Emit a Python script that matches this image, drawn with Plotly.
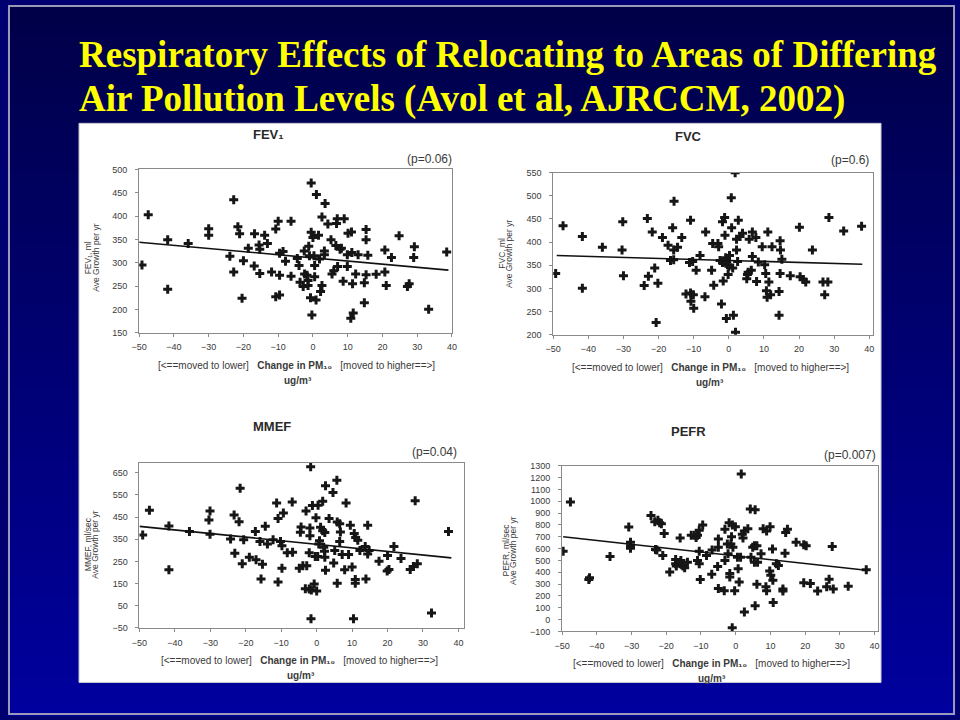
import plotly.graph_objects as go

W, H = 960, 720

TITLE_LINE1 = "Respiratory Effects of Relocating to Areas of Differing"
TITLE_LINE2 = "Air Pollution Levels (Avol et al, AJRCCM, 2002)"

X_TICKS = [-50, -40, -30, -20, -10, 0, 10, 20, 30, 40]
FEV1_YTICKS = [150, 200, 250, 300, 350, 400, 450, 500]
FVC_YTICKS = [200, 250, 300, 350, 400, 450, 500, 550]
MMEF_YTICKS = [-50, 50, 150, 250, 350, 450, 550, 650]
PEFR_YTICKS = [-100, 0, 100, 200, 300, 400, 500, 600, 700, 800, 900, 1000, 1100, 1200, 1300]

# (change in PM10, growth) pairs
FEV1_POINTS = [
    (-49.2, 295), (-47.4, 403), (-41.8, 349), (-41.8, 243), (-35.9, 341), (-30, 373), (-30, 359),
    (-23.9, 314), (-22.8, 435), (-22.8, 280), (-21.6, 377), (-21.1, 362), (-20.4, 224), (-20, 304),
    (-18.6, 331), (-16.9, 293), (-16.8, 362), (-15.5, 338), (-15.3, 329), (-15.3, 277), (-13.9, 359),
    (-13.1, 341), (-11.9, 280), (-10.7, 372), (-10, 389), (-10.7, 227), (-9.6, 231), (-9.6, 273),
    (-9.6, 320), (-8.6, 324), (-7.9, 303), (-6.3, 389), (-6.3, 271), (-4.5, 309), (-4, 294),
    (-3.7, 258), (-2.8, 249), (-2.5, 325), (-2.4, 276), (-1.7, 273), (-1.4, 262), (-1.4, 251),
    (-1.2, 335), (-1, 315), (-0.7, 225), (-0.5, 471), (-0.5, 365), (-0.3, 188), (0, 354), (0.3, 315),
    (0.5, 294), (0.5, 270), (0.9, 220), (1, 446), (1.6, 359), (1.9, 308), (2.2, 238), (2.6, 251),
    (2.6, 398), (3.3, 317), (3.3, 325), (3.5, 427), (4.3, 383), (5.2, 349), (5.5, 276), (6, 283),
    (6.6, 337), (6.8, 384), (7, 394), (7.1, 292), (7.8, 329), (8.2, 331), (8.7, 260), (9, 394),
    (9.9, 317), (9.9, 292), (10.1, 363), (11.1, 366), (11.2, 322), (11.4, 255), (10.9, 181),
    (11.6, 192), (12.3, 276), (13, 317), (14.8, 257), (14.8, 214), (15.3, 371), (15.3, 349),
    (15.3, 274), (15.8, 316), (18.2, 275), (20.7, 327), (20.7, 280), (21.1, 251), (22.6, 311),
    (24.8, 358), (27.2, 249), (27.7, 255), (29, 311), (29.2, 334), (33.3, 200), (38.5, 323),
]
FEV1_FIT = [(-50, 344), (39, 284)]

FVC_POINTS = [
    (-49.3, 332), (-47.2, 435), (-41.7, 412), (-41.7, 300), (-36, 389), (-30.2, 444), (-30.4, 383),
    (-30, 327), (-24.1, 306), (-23.2, 451), (-22.9, 326), (-21.8, 422), (-21.1, 344), (-20.7, 226),
    (-20.2, 311), (-18.9, 410), (-17.3, 393), (-16.6, 360), (-16, 431), (-15.6, 488), (-15.7, 383),
    (-15.7, 362), (-14.6, 389), (-13.4, 410), (-12.2, 288), (-10.9, 447), (-11.2, 356), (-10.9, 290),
    (-10.8, 272), (-10.3, 358), (-10.1, 286), (-10, 257), (-9.3, 339), (-8.2, 371), (-6.8, 282),
    (-6.6, 422), (-4.9, 339), (-4.6, 397), (-4.3, 307), (-3.1, 397), (-2.9, 390), (-2.5, 360),
    (-2.1, 266), (-1.8, 356), (-1.8, 444), (-1.6, 316), (-1.2, 453), (-1.1, 415), (-0.9, 366),
    (-0.7, 235), (-0.6, 358), (-0.4, 351), (-0.2, 330), (0, 348), (0.2, 371), (0.7, 496), (0.8, 431),
    (1.1, 344), (1.3, 242), (1.8, 550), (1.9, 205), (2.2, 406), (2.2, 383), (2.5, 358), (2.7, 447),
    (3.2, 412), (3.9, 419), (5.1, 321), (5.3, 330), (5.5, 335), (5.8, 406), (6.4, 339), (6.7, 422),
    (6.7, 369), (7.7, 410), (7.9, 315), (8.4, 357), (9.5, 390), (10.2, 351), (10.5, 332), (10.7, 295),
    (10.9, 281), (11.1, 422), (11.4, 314), (11.9, 286), (12.3, 390), (14.3, 293), (14.3, 242),
    (14.6, 403), (14.6, 332), (14.7, 383), (15.1, 363), (17.5, 327), (20.1, 432), (20.3, 325),
    (21.2, 319), (21.9, 314), (23.8, 383), (26.8, 314), (27.3, 286), (28.2, 314), (28.5, 453),
    (32.7, 424), (37.8, 434),
]
FVC_FIT = [(-49, 371), (38, 352)]

MMEF_POINTS = [
    (-49.1, 369), (-47.2, 481), (-41.7, 410), (-41.7, 213), (-35.9, 385), (-30.4, 437), (-30.1, 477),
    (-30.1, 373), (-24.3, 351), (-23.3, 459), (-23.1, 287), (-21.9, 429), (-21.6, 580), (-21, 240),
    (-20.6, 348), (-19, 269), (-17.3, 385), (-17.1, 258), (-16, 340), (-15.7, 171), (-15.3, 237),
    (-14.5, 409), (-13.9, 329), (-12.3, 348), (-11.3, 514), (-10.9, 444), (-10.9, 157), (-10.2, 340),
    (-9.8, 321), (-9.8, 219), (-9.4, 468), (-8.3, 289), (-6.9, 518), (-6.8, 291), (-4.9, 219),
    (-4.6, 382), (-4.4, 405), (-3.9, 231), (-3.2, 127), (-3, 477), (-2.8, 231), (-2.1, 126),
    (-2.1, 289), (-1.9, 401), (-1.9, 366), (-1.7, 677), (-1.6, -9), (-1.5, 121), (-1.2, 502),
    (-0.7, 148), (-0.4, 272), (-0.2, 447), (0, 117), (0.3, 272), (0.4, 503), (0.6, 329), (0.8, 343),
    (1.1, 404), (1.7, 521), (1.7, 388), (2, 314), (2.2, 296), (2.3, 380), (2.3, 269), (2.5, 591),
    (2.5, 210), (3.5, 444), (4.6, 561), (4.8, 243), (5.1, 299), (5.7, 616), (5.8, 428), (5.8, 151),
    (6.5, 420), (6.5, 340), (6.7, 383), (7.2, 281), (7.9, 213), (8.3, 514), (9, 281), (9.5, 413),
    (10, 225), (10.4, -9), (10.6, 376), (11, 358), (10.9, 168), (10.9, 151), (11.6, 346), (12.2, 299),
    (13.7, 317), (13.9, 171), (14.4, 413), (14.4, 284), (14.8, 299), (17.6, 251), (19.9, 207),
    (20.4, 214), (20, 277), (21.8, 317), (23.8, 263), (26.4, 214), (27.3, 227), (28.4, 240),
    (27.8, 524), (32.4, 17), (37.2, 385),
]
MMEF_FIT = [(-50, 408), (38, 266)]

PEFR_POINTS = [
    (-49.7, 578), (-47.6, 994), (-42.1, 353), (-42.3, 340), (-36.2, 533), (-30.8, 783), (-30.3, 653),
    (-30.3, 625), (-30.3, 603), (-24.4, 881), (-23.3, 828), (-22.4, 839), (-21.9, 819), (-21.4, 811),
    (-23.1, 592), (-22.7, 589), (-21, 542), (-20.6, 728), (-19, 403), (-17.3, 508), (-17.3, 472),
    (-17.1, 453), (-16, 472), (-16, 689), (-15.8, 500), (-15.2, 453), (-14.7, 439), (-13.9, 486),
    (-12.8, 714), (-11.9, 714), (-11.4, 694), (-11, 714), (-10.5, 756), (-11, 500), (-10.5, 472),
    (-10.5, 578), (-10.2, 339), (-9.5, 800), (-8.4, 542), (-6.9, 383), (-6.8, 589), (-5, 681),
    (-5, 611), (-5.2, 450), (-5, 264), (-3.3, 244), (-3.1, 764), (-2.4, 639), (-1.9, 819), (-1.2, 700),
    (-1.4, 639), (-0.95, 800), (-1.7, 389), (-1.7, 361), (-2.2, 556), (-3.1, 500), (-0.8, 611),
    (-0.1, 786), (-0.3, 244), (0.7, 431), (1, 319), (0.5, 528), (1.4, 528), (1.6, 1231), (1.9, 722),
    (2.1, 689), (2.5, 750), (3.5, 769), (2.5, 64), (-1, -69), (4.2, 936), (5.6, 928), (4.9, 611),
    (5.4, 625), (6.1, 625), (4.4, 528), (5.4, 486), (6.3, 486), (7.3, 556), (6.1, 300), (5.6, 117),
    (7.9, 769), (8.9, 750), (9.9, 786), (10.6, 597), (8.7, 278), (8.9, 244), (9.8, 411), (10.1, 375),
    (10.7, 333), (11.7, 472), (12.3, 458), (10.8, 144), (13.6, 258), (13.6, 242), (14.2, 561),
    (14.4, 736), (14.9, 764), (17.4, 653), (19.6, 633), (20.3, 625), (19.6, 311), (21.5, 306),
    (23.6, 242), (26.2, 278), (26.9, 342), (28.1, 258), (27.8, 619), (32.4, 283), (37.6, 422),
]
PEFR_FIT = [(-49.7, 700), (37.6, 417)]

XTITLE = ("[&lt;==moved to lower]&nbsp;&nbsp;&nbsp;<b>Change in PM₁₀</b>"
          "&nbsp;&nbsp;&nbsp;[moved to higher==&gt;]")
UNITS = "<b>ug/m³</b>"
YTITLE2 = "Ave Growth per yr"


def px(x):
    return x / W


def py(y):
    return 1 - y / H


PANELS = [
    dict(pts=FEV1_POINTS, fit=FEV1_FIT, yticks=FEV1_YTICKS, yrange=[150, 500], xrange=[-50, 40],
         frame=(133, 450, 166.7, 332.3), title="FEV₁", title_xy=(264, 131),
         p="(p=0.06)", p_xy=(452, 156), ytitle="FEV₁, ml",
         yt1_x=82, yt2_x=89.5, yt_y=256, xt1_xy=(292, 366), xt2_xy=(294, 381)),
    dict(pts=FVC_POINTS, fit=FVC_FIT, yticks=FVC_YTICKS, yrange=[200, 550], xrange=[-50, 41],
         frame=(552.7, 876.7, 170, 334.3), title="FVC", title_xy=(690, 133),
         p="(p=0.6)", p_xy=(875, 157), ytitle="FVC, ml",
         yt1_x=501, yt2_x=508.5, yt_y=252, xt1_xy=(712, 368), xt2_xy=(712, 383)),
    dict(pts=MMEF_POINTS, fit=MMEF_FIT, yticks=MMEF_YTICKS, yrange=[-50, 696], xrange=[-50, 41.7],
         frame=(133.3, 462.7, 464, 631.7), title="MMEF", title_xy=(268, 427),
         p="(p=0.04)", p_xy=(457, 453), ytitle="MMEF, ml/sec",
         yt1_x=81, yt2_x=88.5, yt_y=547, xt1_xy=(295, 665), xt2_xy=(297, 680)),
    dict(pts=PEFR_POINTS, fit=PEFR_FIT, yticks=PEFR_YTICKS, yrange=[-100, 1300], xrange=[-50, 41],
         frame=(561.7, 882, 467.3, 635.3), title="PEFR", title_xy=(690, 432),
         p="(p=0.007)", p_xy=(882, 456), ytitle="PEFR, ml/sec",
         yt1_x=505, yt2_x=512.5, yt_y=553, xt1_xy=(713, 668), xt2_xy=(714, 683)),
]

TEXT_COL = "#3a3a3a"
FRAME_COL = "#8a8a8a"
SANS = "Liberation Sans, Arial, DejaVu Sans, sans-serif"
SERIF = "Liberation Serif, Times New Roman, serif"

fig = go.Figure()
layout = dict(
    width=W, height=H, margin=dict(l=0, r=0, t=0, b=0),
    paper_bgcolor="#000070", plot_bgcolor="white", showlegend=False,
    font=dict(family=SANS, color=TEXT_COL, size=10),
)

# background gradient + white picture area
shapes = []
N = 72
for i in range(N):
    t = i / (N - 1)
    b = int(round(72 + (158 - 72) * t))
    shapes.append(dict(type="rect", xref="paper", yref="paper", x0=0, x1=1,
                       y0=py((i + 1) * 10 + 1), y1=py(i * 10), fillcolor=f"rgb(0,0,{b})",
                       line=dict(width=0), layer="below"))
shapes.append(dict(type="rect", xref="paper", yref="paper", x0=px(72), x1=px(885),
                   y0=py(687), y1=py(120), fillcolor="white", line=dict(color="#c8c8d0", width=1),
                   layer="below"))
shapes.append(dict(type="rect", xref="paper", yref="paper", x0=px(1), x1=px(959),
                   y0=py(719), y1=py(1), fillcolor="rgba(0,0,0,0)",
                   line=dict(color="#9a9ab8", width=2), layer="above"))

annotations = [
    dict(text=TITLE_LINE1, x=px(70), y=py(50), xref="paper", yref="paper", xanchor="left",
         yanchor="middle", showarrow=False,
         font=dict(family=SERIF, size=37, color="#ffff00", weight="bold")),
    dict(text=TITLE_LINE2, x=px(70), y=py(95), xref="paper", yref="paper", xanchor="left",
         yanchor="middle", showarrow=False,
         font=dict(family=SERIF, size=37, color="#ffff00", weight="bold")),
]


def ann(text, xy, size, xanchor="center", bold=False, angle=None, col=TEXT_COL):
    a = dict(text=text, x=px(xy[0]), y=py(xy[1]), xref="paper", yref="paper",
             xanchor=xanchor, yanchor="middle", showarrow=False,
             font=dict(family=SANS, size=size, color=col))
    if bold:
        a["font"]["weight"] = "bold"
    if angle is not None:
        a["textangle"] = angle
    return a


for i, p in enumerate(PANELS):
    k = "" if i == 0 else str(i + 1)
    xs = [a for a, _ in p["pts"]]
    ys = [b for _, b in p["pts"]]
    fig.add_trace(go.Scatter(x=xs, y=ys, mode="markers", xaxis="x" + k, yaxis="y" + k,
                             marker=dict(symbol="cross", size=7.5, color="#161616",
                                         line=dict(width=0))))
    fig.add_trace(go.Scatter(x=[a for a, _ in p["fit"]], y=[b for _, b in p["fit"]], mode="lines",
                             xaxis="x" + k, yaxis="y" + k, line=dict(color="#111", width=1.6)))
    x0, x1, y0, y1 = p["frame"]
    common = dict(showgrid=False, zeroline=False, showline=True, mirror=True, linecolor=FRAME_COL,
                  linewidth=1, ticks="outside", ticklen=3, tickcolor=FRAME_COL,
                  tickfont=dict(size=9, color=TEXT_COL, family=SANS))
    layout["xaxis" + k] = dict(domain=[px(x0), px(x1)], range=p["xrange"], tickvals=X_TICKS,
                               anchor="y" + k, ticklabelstandoff=3, **common)
    layout["yaxis" + k] = dict(domain=[py(y1), py(y0)], range=p["yrange"], tickvals=p["yticks"],
                               anchor="x" + k, ticklabelstandoff=6, **common)

    annotations.append(ann(p["title"], p["title_xy"], 13, bold=True, col="#2a2a2a"))
    annotations.append(ann(p["p"], p["p_xy"], 12, xanchor="right"))
    annotations.append(ann(p["ytitle"], (p["yt1_x"], p["yt_y"]), 8.5, angle=-90))
    annotations.append(ann(YTITLE2, (p["yt2_x"], p["yt_y"]), 8.5, angle=-90))
    annotations.append(ann(XTITLE, p["xt1_xy"], 10))
    annotations.append(ann(UNITS, p["xt2_xy"], 10))

layout["shapes"] = shapes
layout["annotations"] = annotations
fig.update_layout(**layout)
fig.write_html(
    "out.html",
    config={"displayModeBar": False},
    post_script="document.body.style.margin='0';document.body.style.overflow='hidden';",
)
